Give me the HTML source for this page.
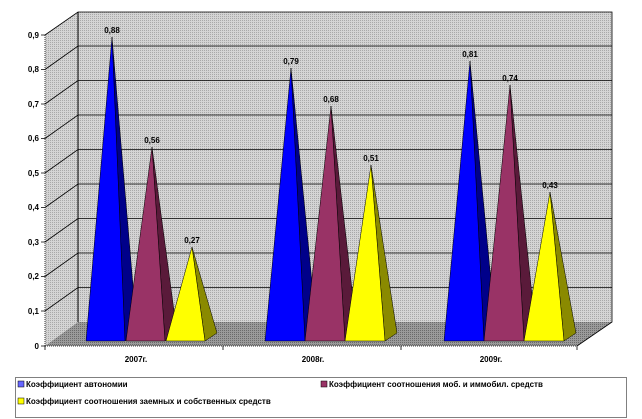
<!DOCTYPE html><html><head><meta charset="utf-8"><style>body{margin:0;background:#fff}svg{display:block}text{font-family:"Liberation Sans",sans-serif;font-weight:bold;font-size:8px}</style></head><body>
<svg width="642" height="419" viewBox="0 0 642 419">
<defs><pattern id="d" width="2" height="2" patternUnits="userSpaceOnUse"><rect width="2" height="2" fill="#d4d4d4"/><rect width="1" height="1" fill="#a8a8a8"/></pattern>
<pattern id="f" width="2" height="2" patternUnits="userSpaceOnUse"><rect width="2" height="2" fill="#9a9a9a"/><rect width="1" height="1" fill="#6a6a6a"/></pattern></defs>
<polygon points="78,12 612,12 612,322 78,322" fill="url(#d)"/>
<polygon points="45,35 78,12 78,322 45,346" fill="url(#d)"/>
<polygon points="45,346 78,322 612,322 577,346" fill="url(#f)"/>
<g stroke="#000" stroke-width="1">
<line x1="78" y1="12" x2="78" y2="322"/>
<g id="gl"></g>
</g>
<g stroke="#000" stroke-width="0.8" fill="none">
<path d="M45,35 L78,12 L612,12 L612,322 L577,346"/>
<path d="M45,69.5 L78,46 H612 M45,104 L78,80.5 H612 M45,138.5 L78,115 H612 M45,173 L78,149.5 H612 M45,207.5 L78,184 H612 M45,242 L78,218.5 H612 M45,276.5 L78,253 H612 M45,311 L78,287.5 H612"/>
<line x1="45" y1="35" x2="45" y2="346" stroke-dasharray="1,1"/>
<line x1="45" y1="346" x2="577" y2="346" stroke-dasharray="1,1"/>
<path d="M41,35H45M41,69.5H45M41,104H45M41,138.5H45M41,173H45M41,207.5H45M41,242H45M41,276.5H45M41,311H45M41,346H45M45,346V350M223,346V350M401,346V350M577,346V350"/>
</g>
<g text-anchor="end"><text x="39" y="38">0,9</text><text x="39" y="72">0,8</text><text x="39" y="107">0,7</text><text x="39" y="141">0,6</text><text x="39" y="176">0,5</text><text x="39" y="210">0,4</text><text x="39" y="245">0,3</text><text x="39" y="279">0,2</text><text x="39" y="314">0,1</text><text x="39" y="349">0</text></g>
<g stroke="#000" stroke-width="0.5">
<!-- group1 -->
<polygon points="112,37 125,341 137,333" fill="#00008a"/><polygon points="86,341 112,37 125,341" fill="#0000ff"/>
<polygon points="152,147 165,341 177,333" fill="#5a1a3a"/><polygon points="126,341 152,147 165,341" fill="#993366"/>
<polygon points="192,247 205,341 217,333" fill="#8a8a00"/><polygon points="166,341 192,247 205,341" fill="#ffff00"/>
<polygon points="291,68 305,341 317,333" fill="#00008a"/><polygon points="265,341 291,68 305,341" fill="#0000ff"/>
<polygon points="331,106 345,341 357,333" fill="#5a1a3a"/><polygon points="305,341 331,106 345,341" fill="#993366"/>
<polygon points="371,165 385,341 397,333" fill="#8a8a00"/><polygon points="345,341 371,165 385,341" fill="#ffff00"/>
<polygon points="470,61 484,341 496,333" fill="#00008a"/><polygon points="444,341 470,61 484,341" fill="#0000ff"/>
<polygon points="510,85 524,341 536,333" fill="#5a1a3a"/><polygon points="484,341 510,85 524,341" fill="#993366"/>
<polygon points="550,192 564,341 576,333" fill="#8a8a00"/><polygon points="524,341 550,192 564,341" fill="#ffff00"/>
</g>
<g text-anchor="middle"><text x="112" y="33">0,88</text><text x="152" y="143">0,56</text><text x="192" y="243">0,27</text>
<text x="291" y="64">0,79</text><text x="331" y="102">0,68</text><text x="371" y="161">0,51</text>
<text x="470" y="57">0,81</text><text x="510" y="81">0,74</text><text x="550" y="188">0,43</text>
<text x="136" y="362">2007г.</text><text x="313" y="362">2008г.</text><text x="491" y="362">2009г.</text></g>
<rect x="15.5" y="377.5" width="611" height="40" fill="#fff" stroke="#000" stroke-dasharray="1,1"/>
<rect x="18" y="381" width="6" height="6" fill="#6666ff" stroke="#000" stroke-width="0.5"/><text x="26" y="387">Коэффициент автономии</text>
<rect x="321" y="381" width="6" height="6" fill="#993366" stroke="#000" stroke-width="0.5"/><text x="329" y="387">Коэффициент соотношения моб. и иммобил. средств</text>
<rect x="18" y="398" width="6" height="6" fill="#ffff00" stroke="#000" stroke-width="0.5"/><text x="26" y="404">Коэффициент соотношения заемных  и собственных средств</text>
</svg></body></html>
